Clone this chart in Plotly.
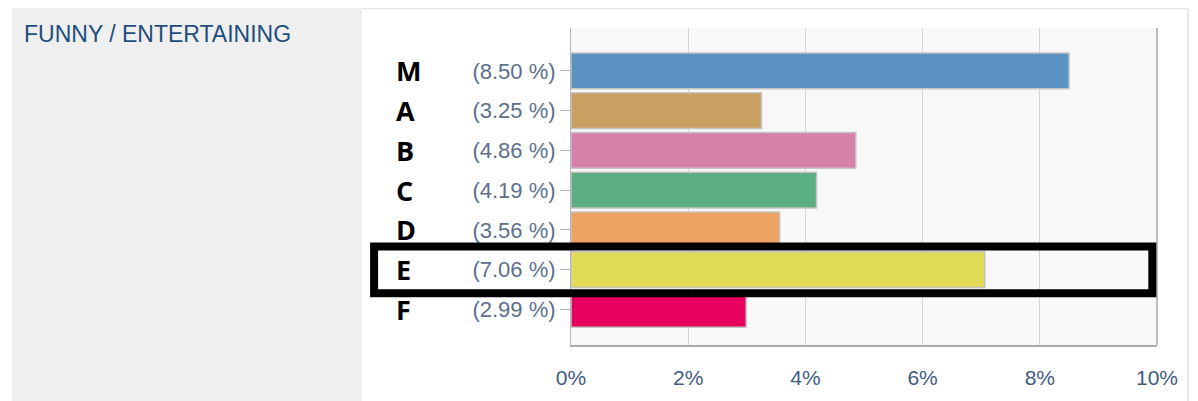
import plotly.graph_objects as go

# valores
letras = ['M', 'A', 'B', 'C', 'D', 'E', 'F']
percentuais = [8.50, 3.25, 4.86, 4.19, 3.56, 7.06, 2.99]
cores = ['#5a93c2', '#c9a062', '#d780aa', '#5bae82', '#eca363', '#e1dc56', '#e8005f']
rotulos = ['(%.2f %%)' % v for v in percentuais]
destaque = 'E'

posicoes = list(range(len(letras)))

fig = go.Figure()
fig.add_trace(go.Bar(
    x=percentuais, y=posicoes, orientation='h',
    marker=dict(color=cores, line=dict(color='#c4c4c4', width=1.5)),
    width=0.9, hoverinfo='x',
))

# letras à esquerda
for pos, letra in zip(posicoes, letras):
    fig.add_annotation(x=-0.302, y=pos, xref='paper', yref='y', text=letra,
                       showarrow=False, xanchor='left', yanchor='middle',
                       font=dict(family='Open Sans', size=27, color='black', weight='bold'))

# painel cinza da esquerda e moldura
fig.add_shape(type='rect', xref='paper', yref='paper', x0=-0.954, x1=-0.357, y0=-0.2, y1=1.062,
              fillcolor='#efefef', line_width=0, layer='below')
fig.add_shape(type='line', xref='paper', yref='paper', x0=-0.357, x1=1.053, y0=1.062, y1=1.062,
              line=dict(color='#e6e6e6', width=2))
fig.add_shape(type='line', xref='paper', yref='paper', x0=1.053, x1=1.053, y0=1.062, y1=-0.2,
              line=dict(color='#e6e6e6', width=2))
fig.add_shape(type='line', xref='paper', yref='paper', x0=1.0, x1=1.0, y0=0, y1=1,
              line=dict(color='#bdbdbd', width=2))

fig.add_annotation(x=-0.937, y=0.98, xref='paper', yref='paper', text='FUNNY / ENTERTAINING',
                   showarrow=False, xanchor='left', yanchor='middle',
                   font=dict(family='Liberation Sans', size=23, color='#1d4e7e'))

# caixa preta em volta do destaque
i = letras.index(destaque)
fig.add_shape(type='rect', xref='paper', yref='y', x0=-0.336, x1=0.992, y0=i - 0.58, y1=i + 0.594,
              line=dict(color='black', width=8))

fig.update_xaxes(range=[0, 10], dtick=2, ticksuffix='%', showgrid=True, gridcolor='#d4d4d4',
                 gridwidth=1, showline=True, linecolor='#aaaaaa', linewidth=2, ticks='',
                 ticklabelstandoff=13, zeroline=False,
                 tickfont=dict(family='Liberation Sans', size=21, color='#3f5b82'))
fig.update_yaxes(range=[6.894, -1.077], tickvals=posicoes, ticktext=rotulos, showgrid=False,
                 showline=True, linecolor='#b5b5b5', linewidth=1, ticks='outside', ticklen=10,
                 tickcolor='#b5b5b5', zeroline=False,
                 tickfont=dict(family='Liberation Sans', size=22, color='#5b6f8e'))

# a página tem 8px de margem no body: a figura fica 8px menor
fig.update_layout(
    width=1190, height=393,
    margin=dict(l=563, r=41, t=20, b=51),
    paper_bgcolor='white', plot_bgcolor='#f8f8f8',
    showlegend=False,
)

fig.write_html('out.html')
